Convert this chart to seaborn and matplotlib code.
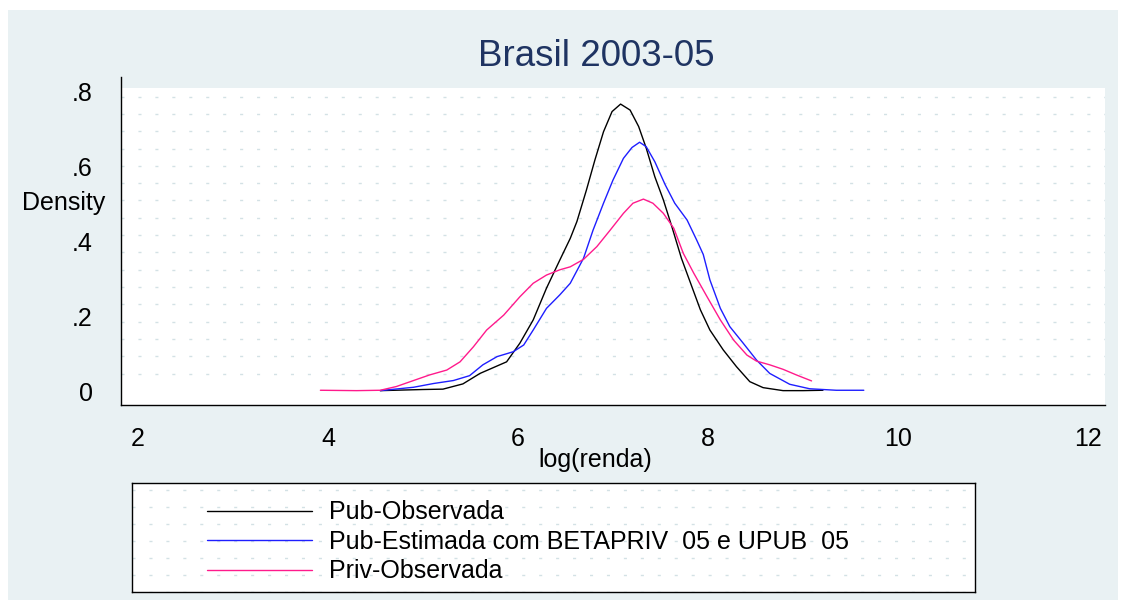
import numpy as np
import pandas as pd
import matplotlib
matplotlib.use("Agg")
import matplotlib.pyplot as plt
from matplotlib.patches import Rectangle
from matplotlib.ticker import MultipleLocator
import seaborn as sns

# densidades (log da renda, densidade)
pub_obs_x = [4.55, 5.0, 5.21, 5.42, 5.6, 5.88, 6.02, 6.16, 6.30, 6.44, 6.55, 6.62, 6.72,
             6.81, 6.90, 6.99, 7.08, 7.18, 7.27, 7.35, 7.44, 7.53, 7.62, 7.72, 7.83,
             7.92, 8.02, 8.16, 8.30, 8.44, 8.58, 8.79, 9.0, 9.21]
pub_obs_y = [0.001, 0.004, 0.005, 0.019, 0.047, 0.078, 0.128, 0.19, 0.275, 0.35, 0.408,
             0.453, 0.537, 0.618, 0.693, 0.747, 0.767, 0.751, 0.707, 0.649, 0.573,
             0.511, 0.439, 0.355, 0.279, 0.217, 0.163, 0.11, 0.065, 0.025, 0.009,
             0.001, 0.001, 0.002]

pub_est_x = [4.55, 4.90, 5.11, 5.32, 5.49, 5.63, 5.78, 5.95, 6.06, 6.16, 6.30, 6.44, 6.55,
             6.69, 6.79, 6.90, 7.00, 7.11, 7.20, 7.28, 7.35, 7.44, 7.55, 7.65, 7.78,
             7.88, 7.95, 8.02, 8.13, 8.23, 8.37, 8.51, 8.65, 8.86, 9.07, 9.35, 9.64]
pub_est_y = [0.001, 0.01, 0.02, 0.028, 0.041, 0.07, 0.092, 0.105, 0.123, 0.163, 0.221,
             0.257, 0.288, 0.355, 0.43, 0.502, 0.564, 0.622, 0.651, 0.665, 0.653,
             0.613, 0.551, 0.502, 0.457, 0.404, 0.365, 0.297, 0.221, 0.172, 0.128,
             0.083, 0.047, 0.018, 0.006, 0.002, 0.002]

priv_obs_x = [3.92, 4.3, 4.55, 4.72, 4.90, 5.07, 5.25, 5.39, 5.53, 5.67, 5.85, 6.02, 6.16,
              6.30, 6.44, 6.55, 6.69, 6.83, 6.97, 7.11, 7.21, 7.32, 7.42, 7.53, 7.64,
              7.74, 7.85, 7.99, 8.13, 8.27, 8.41, 8.51, 8.65, 8.79, 8.93, 9.09]
priv_obs_y = [0.002, 0.001, 0.002, 0.012, 0.028, 0.043, 0.056, 0.078, 0.118, 0.163,
              0.203, 0.252, 0.288, 0.31, 0.324, 0.332, 0.352, 0.386, 0.43, 0.475,
              0.502, 0.513, 0.502, 0.475, 0.435, 0.368, 0.315, 0.252, 0.19, 0.136,
              0.096, 0.08, 0.07, 0.058, 0.043, 0.027]

series = ["Pub-Observada", "Pub-Estimada com BETAPRIV  05 e UPUB  05", "Priv-Observada"]
cores = ["#000000", "#1E1EFF", "#FF1A8C"]
x_ticks = [2, 4, 6, 8, 10, 12]
y_ticks = [0, 0.2, 0.4, 0.6, 0.8]
y_labels = ["0", ".2", ".4", ".6", ".8"]

df = pd.concat([
    pd.DataFrame({"logrenda": pub_obs_x, "density": pub_obs_y, "serie": series[0]}),
    pd.DataFrame({"logrenda": pub_est_x, "density": pub_est_y, "serie": series[1]}),
    pd.DataFrame({"logrenda": priv_obs_x, "density": priv_obs_y, "serie": series[2]}),
], ignore_index=True)

sns.set_style("white")
plt.rcParams["font.family"] = ["Liberation Sans", "DejaVu Sans"]
plt.rcParams["text.color"] = "black"
plt.rcParams["axes.labelcolor"] = "black"

W, H = 1124, 600
fig = plt.figure(figsize=(W / 100, H / 100), dpi=100)
fig.patch.set_facecolor("white")
bg = "#E9F1F3"
fig.add_artist(Rectangle((8 / W, 0), (1118 - 8) / W, (H - 10) / H,
                         transform=fig.transFigure, facecolor=bg, edgecolor="none", zorder=-10))

grid_kw = dict(color="#D3E1E5", linewidth=1.0, linestyle=(0, (2.2, 10)))

ax = fig.add_axes([121 / W, 1 - 405 / H, (1105 - 121) / W, (405 - 88) / H])
ax.set_facecolor("white")
sns.lineplot(data=df, x="logrenda", y="density", hue="serie", hue_order=series,
             palette=cores, sort=False, estimator=None, linewidth=1.0, ax=ax)

ax.set_xlim(1.821, 12.179)
ax.set_ylim(-0.0374, 0.81)
ax.set_xticks(x_ticks)
ax.set_yticks(y_ticks, y_labels)
ax.yaxis.set_minor_locator(MultipleLocator(0.0463))
ax.grid(False)
ax.grid(which="minor", axis="y", **grid_kw)
ax.tick_params(which="minor", length=0)
ax.tick_params(axis="y", which="major", direction="out", length=8.5, width=1,
               pad=12, labelsize=18, colors="black")
ax.tick_params(axis="x", which="major", direction="out", length=6.5, width=1,
               pad=9, labelsize=18, colors="black")
for s in ["top", "right"]:
    ax.spines[s].set_visible(False)
for s in ["left", "bottom"]:
    ax.spines[s].set_color("black")
    ax.spines[s].set_linewidth(1)
ax.spines["left"].set_bounds(-0.0374, 0.84)

ax.set_ylabel("Density", rotation=0, ha="right", va="center", fontsize=18, color="black")
ax.yaxis.set_label_coords(-0.0163, 0.637)
ax.set_xlabel("log(renda)", ha="center", va="center", fontsize=18, color="black")
ax.xaxis.set_label_coords(0.482, -0.1735)

fig.text(596 / W, 1 - 57 / H, "Brasil 2003-05", ha="center", va="center",
         fontsize=26.5, color="#1F3462")

handles, labels = ax.get_legend_handles_labels()
ax.get_legend().remove()

lax = fig.add_axes([132 / W, 1 - 592 / H, (975 - 132) / W, (592 - 483) / H])
lax.set_facecolor("white")
lax.set_xlim(0, 1)
lax.set_ylim(0, 1)
lax.set_xticks([])
lax.set_yticks([])
lax.yaxis.set_minor_locator(MultipleLocator(17 / 109))
lax.grid(which="minor", axis="y", **grid_kw)
lax.tick_params(which="minor", length=0)
for s in lax.spines.values():
    s.set_visible(True)
    s.set_color("black")
    s.set_linewidth(1)
lax.legend(handles, labels, loc="upper left", bbox_to_anchor=(0.074, 0.955),
           frameon=False, fontsize=18, borderpad=0, handlelength=4.2,
           handletextpad=0.7, labelspacing=0.22)

fig.savefig("out.png", dpi=100)
